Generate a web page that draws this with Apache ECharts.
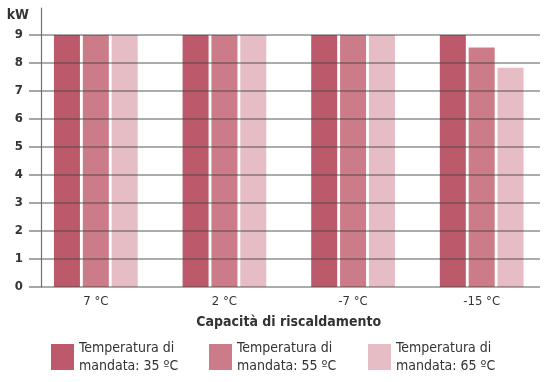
<!DOCTYPE html>
<html><head><meta charset="utf-8">
<script src="https://cdn.jsdelivr.net/npm/echarts@6/dist/echarts.min.js"></script>
<style>html,body{margin:0;padding:0;background:#fff}#c{width:546px;height:382px}</style>
</head><body><div id="c"></div>
<script>
var categories = ['7 °C', '2 °C', '-7 °C', '-15 °C'];
var seriesNames = ['Temperatura di\nmandata: 35 ºC', 'Temperatura di\nmandata: 55 ºC', 'Temperatura di\nmandata: 65 ºC'];
var values35 = [9, 9, 9, 9];
var values55 = [9, 9, 9, 8.55];
var values65 = [9, 9, 9, 7.83];
var yTicks = [0, 1, 2, 3, 4, 5, 6, 7, 8, 9];
var colors = ['#bc5a6b', '#cc7c88', '#e6bdc4'];
var FONT = '"Liberation Sans Narrow", "DejaVu Sans Condensed", "Roboto Condensed", sans-serif';

var chart = echarts.init(document.getElementById('c'));
var allVals = [values35, values55, values65];
var series = allVals.map(function (v, i) {
  return {
    name: seriesNames[i], type: 'bar', xAxisIndex: 1, yAxisIndex: 1,
    data: v, barWidth: 26, barGap: '11%', z: 2,
    itemStyle: { color: colors[i] }
  };
});
function legendAt(i, left) {
  return {
    data: [seriesNames[i]], left: left, top: 339, itemWidth: 23, itemHeight: 26,
    icon: 'rect', itemGap: 6, padding: 0,
    textStyle: { fontFamily: FONT, fontSize: 14, color: '#333', lineHeight: 18 }
  };
}
chart.setOption({
  animation: false,
  textStyle: { fontFamily: FONT },
  grid: [
    { left: 41, right: 6, top: 35, bottom: 95 },
    { left: 31.5, width: 517.6, top: 35, bottom: 95 },
    { left: 41, width: 10, top: 8, bottom: 95 }
  ],
  legend: [legendAt(0, 51), legendAt(1, 209), legendAt(2, 368)],
  xAxis: [
    { type: 'category', gridIndex: 0, data: categories, show: false },
    { type: 'category', gridIndex: 1, data: categories,
      axisLine: { show: false }, axisTick: { show: false },
      axisLabel: { margin: 8, fontFamily: FONT, fontSize: 13, color: '#333' },
      name: 'Capacità di riscaldamento', nameLocation: 'middle', nameGap: 28,
      nameTextStyle: { fontFamily: FONT, fontSize: 14, fontWeight: 'bold', color: '#333' } },
    { type: 'value', gridIndex: 2, show: false }
  ],
  yAxis: [
    { type: 'value', gridIndex: 0, min: 0, max: 9, interval: 1, z: 5,
      name: 'kW', nameLocation: 'end', nameGap: 13,
      nameTextStyle: { fontFamily: FONT, fontSize: 14, fontWeight: 'bold', color: '#333', align: 'right', padding: [0, 12, 0, 0] },
      axisLine: { show: false },
      axisTick: { show: true, length: 12, lineStyle: { color: '#8a8a8a', width: 1.5 } },
      axisLabel: { margin: 18, fontFamily: FONT, fontSize: 13, fontWeight: 'bold', color: '#333',
        formatter: function (v) { return yTicks.indexOf(v) >= 0 ? String(v) : ''; } },
      splitLine: { show: true, lineStyle: { color: 'rgba(70,70,70,0.6)', width: 1.5 } }
    },
    { type: 'value', gridIndex: 1, min: 0, max: 9, interval: 1, show: false, splitLine: { show: false } },
    { type: 'value', gridIndex: 2, min: 0, max: 1, z: 6,
      axisLine: { show: true, lineStyle: { color: '#707070', width: 1.2 }, onZero: false },
      axisTick: { show: false }, axisLabel: { show: false }, splitLine: { show: false } }
  ],
  series: series
});
</script></body></html>
